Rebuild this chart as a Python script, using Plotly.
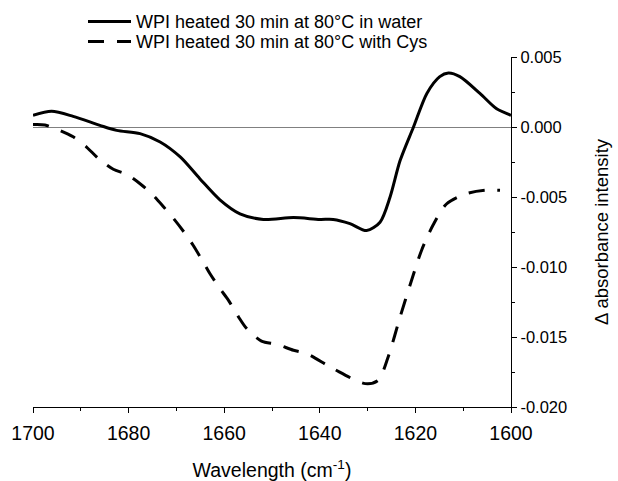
import plotly.graph_objects as go

# Difference spectra (amide I region)
water_wavenumber = [1700, 1696.1, 1691.6, 1686, 1682.5, 1677.6, 1673.4, 1669.2, 1665.1,
                    1660.9, 1656.7, 1651.8, 1645.5, 1640, 1637.2, 1633.7, 1630.2, 1627.4,
                    1625.3, 1623.2, 1620.4, 1617.6, 1614.9, 1613.1, 1610.7, 1606.5, 1603.0, 1600]
water_absorbance = [0.00084, 0.00112, 0.00076, 0.00012, -0.00024, -0.00047, -0.00107, -0.00214,
                    -0.00369, -0.0052, -0.0062, -0.0066, -0.00647, -0.0066, -0.0066, -0.0069,
                    -0.0074, -0.0068, -0.005, -0.0024, 0.0, 0.0024, 0.0036, 0.00386, 0.0036,
                    0.0024, 0.0013, 0.00084]

cys_wavenumber = [1700, 1697.5, 1694.4, 1691.6, 1688.8, 1686.3, 1683.2, 1680.4, 1677.6, 1675.2,
                  1672.7, 1670.6, 1668.2, 1666.5, 1664.4, 1663, 1660.9, 1659.1, 1657, 1655.3,
                  1652.2, 1649, 1645.5, 1642.7, 1637.2, 1630.5, 1627.8, 1625.7, 1623.2, 1620.8,
                  1618.7, 1616.3, 1613.5, 1609.3, 1605.4, 1602.3]
cys_absorbance = [0.00017, 0.00014, -0.00024, -0.0007, -0.00143, -0.00226, -0.00302, -0.00338,
                  -0.00405, -0.00476, -0.0057, -0.00654, -0.0076, -0.00845, -0.00964, -0.01047,
                  -0.01154, -0.01238, -0.01357, -0.0144, -0.01529, -0.01552, -0.01595, -0.01619,
                  -0.01726, -0.01833, -0.0181, -0.01643, -0.01357, -0.01095, -0.0088, -0.0070,
                  -0.0055, -0.00476, -0.00452, -0.00452]

x_tick_values = [1700, 1680, 1660, 1640, 1620, 1600]
x_tick_labels = ["1700", "1680", "1660", "1640", "1620", "1600"]
y_tick_values = [0.005, 0.0, -0.005, -0.010, -0.015, -0.020]
y_tick_labels = ["0.005", "0.000", "-0.005", "-0.010", "-0.015", "-0.020"]

FONT = "Liberation Sans, Arial, sans-serif"

W, H = 618, 481
ML, MR, MT, MB = 33, 107, 57, 74
PLOT_W = W - ML - MR
PLOT_H = H - MT - MB

fig = go.Figure()
fig.add_trace(go.Scatter(
    x=water_wavenumber, y=water_absorbance, mode="lines",
    name="WPI heated 30 min at 80°C in water",
    line=dict(color="black", width=3, shape="spline", smoothing=0.8),
    legend="legend",
))
fig.add_trace(go.Scatter(
    x=cys_wavenumber, y=cys_absorbance, mode="lines",
    name="WPI heated 30 min at 80°C with Cys",
    line=dict(color="black", width=3, dash="16px,13px", shape="spline", smoothing=0.8),
    legend="legend2",
))

legend_style = dict(
    xanchor="left", yanchor="middle",
    font=dict(family=FONT, size=18, color="black"),
    bgcolor="rgba(0,0,0,0)", borderwidth=0, itemwidth=43,
)
legend_x = (83 - ML) / PLOT_W

fig.update_layout(
    width=W, height=H,
    margin=dict(l=ML, r=MR, t=MT, b=MB, autoexpand=False),
    paper_bgcolor="white", plot_bgcolor="white",
    font=dict(family=FONT, color="black"),
    showlegend=True,
    legend=dict(x=legend_x, y=(H - MB - 21.7) / PLOT_H, **legend_style),
    legend2=dict(x=legend_x, y=(H - MB - 41.7) / PLOT_H, **legend_style),
    xaxis=dict(
        range=[1700, 1600], showgrid=False, zeroline=False, automargin=False,
        showline=True, linecolor="black", linewidth=1.3,
        tickmode="array", tickvals=x_tick_values, ticktext=x_tick_labels,
        ticks="outside", ticklen=5, tickwidth=1.3, tickcolor="black",
        ticklabelstandoff=3,
        tickfont=dict(family=FONT, size=19.5),
        minor=dict(dtick=10, ticks="outside", ticklen=3, tickwidth=1.3, tickcolor="black"),
        title=dict(text="Wavelength (cm<sup>-1</sup>)", font=dict(family=FONT, size=19.5), standoff=20),
    ),
    yaxis=dict(
        range=[-0.020, 0.005], side="right", showgrid=False, automargin=False,
        zeroline=True, zerolinecolor="#808080", zerolinewidth=1,
        showline=True, linecolor="black", linewidth=1.3,
        tickmode="array", tickvals=y_tick_values, ticktext=y_tick_labels,
        ticks="outside", ticklen=5, tickwidth=1.3, tickcolor="black",
        tickfont=dict(family=FONT, size=16.5),
        minor=dict(dtick=0.0025, tick0=0, ticks="outside", ticklen=3, tickwidth=1.3, tickcolor="black"),
        title=dict(text="Δ absorbance intensity", font=dict(family=FONT, size=18.5), standoff=28),
    ),
)

fig.write_html("out.html")
